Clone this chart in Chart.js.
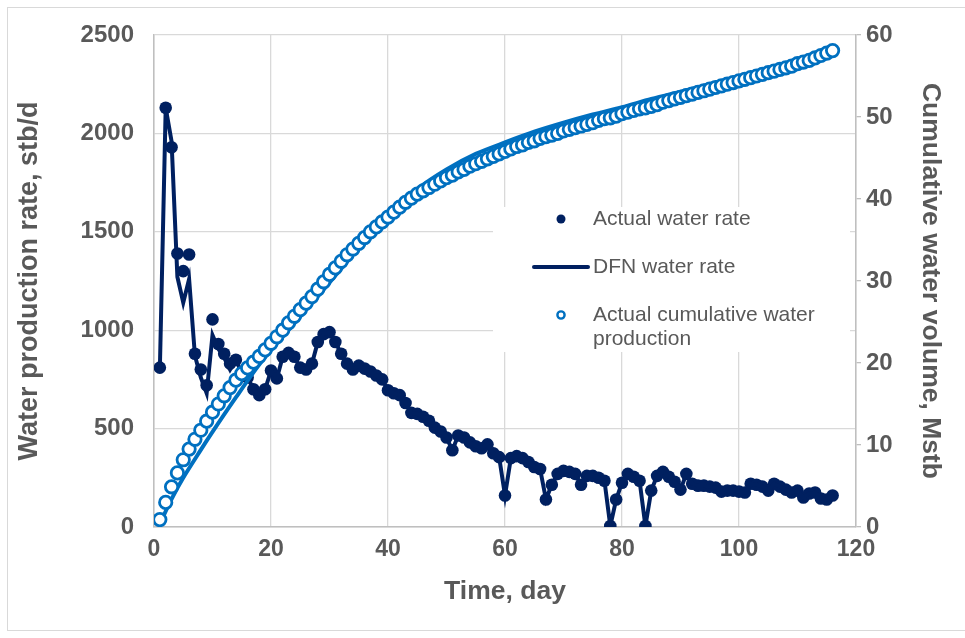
<!DOCTYPE html>
<html>
<head>
<meta charset="utf-8">
<title>Water production</title>
<script src="https://cdn.jsdelivr.net/npm/chart.js@4.4.1/dist/chart.umd.min.js"></script>
<style>
  html, body { margin: 0; padding: 0; background: #fff; }
  .frame {
    position: absolute; left: 7px; top: 7px; width: 958px; height: 622px;
    border: 1px solid #d9d9d9; border-right: none;
  }
  .chart-wrap { position: absolute; left: 0; top: 0; width: 965px; height: 638px; }
</style>
</head>
<body>
<div class="frame"></div>
<div class="chart-wrap"><canvas id="waterChart"></canvas></div>
<script>
// Daily water rate, stb/d (day 1..116)
const actualRate = [
  810, 2130, 1930, 1390, 1300, 1385, 880, 800, 720, 1055,
  930, 880, 830, 850, 780, 760, 700, 670, 700, 795,
  755, 865, 885, 865, 810, 800, 830, 940, 980, 990,
  940, 880, 830, 800, 820, 805, 790, 770, 750, 695,
  680, 670, 630, 580, 575, 560, 540, 505, 485, 455,
  390, 465, 455, 430, 410, 400, 420, 375, 355, 160,
  350, 360, 350, 330, 305, 295, 140, 215, 270, 285,
  280, 270, 215, 260, 260, 250, 235, 5, 140, 225,
  270, 255, 235, 5, 185, 260, 280, 255, 230, 190,
  270, 220, 210, 210, 205, 200, 180, 185, 185, 180,
  175, 220, 215, 205, 185, 220, 205, 190, 175, 185,
  150, 170, 175, 145, 140, 160
];

// DFN model rate, stb/d (day 1..116)
const dfnRate = [
  800, 2130, 1960, 1270, 1140, 1260, 870, 760, 680, 975,
  905, 860, 800, 850, 780, 760, 700, 670, 700, 795,
  755, 865, 885, 865, 810, 800, 830, 940, 980, 990,
  940, 880, 830, 800, 820, 805, 790, 770, 750, 695,
  680, 670, 630, 580, 575, 560, 540, 505, 485, 455,
  390, 465, 455, 430, 410, 400, 420, 375, 355, 160,
  350, 360, 350, 330, 305, 295, 140, 215, 270, 285,
  280, 270, 215, 260, 260, 250, 235, 5, 140, 225,
  270, 255, 235, 5, 185, 260, 280, 255, 230, 190,
  270, 220, 210, 210, 205, 200, 180, 185, 185, 180,
  175, 220, 215, 205, 185, 220, 205, 190, 175, 185,
  150, 170, 175, 145, 140, 160
];

// Cumulative water produced, Mstb (day 1..116)
const actualCum = [
  0.9, 3.0, 4.9, 6.6, 8.2, 9.5, 10.7, 11.8, 12.9, 14.0,
  15.0, 16.0, 17.0, 17.9, 18.7, 19.4, 20.1, 20.8, 21.6, 22.4,
  23.2, 24.0, 24.9, 25.7, 26.5, 27.3, 28.1, 29.0, 29.9, 30.8,
  31.6, 32.4, 33.2, 33.9, 34.6, 35.3, 36.0, 36.6, 37.2, 37.8,
  38.4, 39.0, 39.6, 40.1, 40.6, 41.0, 41.4, 41.8, 42.2, 42.6,
  42.9, 43.3, 43.6, 44.0, 44.3, 44.6, 44.9, 45.2, 45.5, 45.8,
  46.1, 46.4, 46.6, 46.9, 47.1, 47.4, 47.6, 47.8, 48.0, 48.3,
  48.5, 48.7, 48.9, 49.1, 49.3, 49.6, 49.8, 49.9, 50.1, 50.4,
  50.6, 50.8, 51.0, 51.1, 51.3, 51.5, 51.8, 52.0, 52.2, 52.4,
  52.6, 52.8, 53.0, 53.2, 53.4, 53.6, 53.8, 54.0, 54.2, 54.4,
  54.6, 54.8, 55.0, 55.2, 55.4, 55.6, 55.8, 56.0, 56.2, 56.5,
  56.7, 56.9, 57.2, 57.5, 57.8, 58.1
];

// DFN cumulative curve, Mstb
const dfnCumDays = [1, 3, 5, 8, 10, 14, 18, 22, 27, 30, 35, 40, 45, 50, 55, 60, 65, 70, 75, 80, 85, 90, 95, 100, 105, 110, 116];
const dfnCum     = [0.4, 3.4, 6.0, 9.4, 11.6, 15.8, 19.8, 23.2, 27.3, 29.8, 34.0, 37.9, 41.2, 43.6, 45.5, 46.9, 48.2, 49.3, 50.3, 51.2, 52.2, 53.1, 54.0, 54.9, 55.8, 56.7, 58.0];

const rateTicks = [0, 500, 1000, 1500, 2000, 2500];
const cumTicks = [0, 10, 20, 30, 40, 50, 60];
const dayTicks = [0, 20, 40, 60, 80, 100, 120];

const NAVY = '#002060';
const BLUE = '#0070C0';
const TEXT = '#595959';
const GRID = '#d9d9d9';
const FONT = "Arial, 'Liberation Sans', sans-serif";

const days = actualRate.map((_, i) => i + 1);
const pts = (xs, ys) => xs.map((x, i) => ({ x: x, y: ys[i] }));
const plainLabel = v => String(v);

// legend drawn inside the plot, on a white box
const insideLegend = {
  id: 'insideLegend',
  afterDraw(chart, args, opts) {
    const ctx = chart.ctx;
    ctx.save();
    ctx.fillStyle = '#fff';
    ctx.fillRect(opts.left, opts.top, opts.width, opts.height);
    ctx.font = '21px ' + FONT;
    ctx.textBaseline = 'middle';
    let y = opts.top + opts.firstRow;
    chart.data.datasets.filter(ds => ds.legend).forEach(ds => {
      const mx = opts.left + opts.markerX;
      if (ds.legend === 'line') {
        ctx.strokeStyle = ds.borderColor;
        ctx.lineWidth = 4;
        ctx.lineCap = 'round';
        ctx.beginPath();
        ctx.moveTo(mx - 27, y);
        ctx.lineTo(mx + 27, y);
        ctx.stroke();
      } else {
        ctx.beginPath();
        ctx.arc(mx, y, ds.legend === 'open' ? 3.6 : 4.5, 0, Math.PI * 2);
        if (ds.legend === 'open') {
          ctx.fillStyle = '#fff';
          ctx.fill();
          ctx.strokeStyle = ds.borderColor;
          ctx.lineWidth = 2.4;
          ctx.stroke();
        } else {
          ctx.fillStyle = ds.backgroundColor;
          ctx.fill();
        }
      }
      // wrap label to the box width
      const words = ds.label.split(' ');
      const lines = [];
      let line = '';
      words.forEach(w => {
        const test = line ? line + ' ' + w : w;
        if (ctx.measureText(test).width > opts.textWidth && line) {
          lines.push(line);
          line = w;
        } else {
          line = test;
        }
      });
      lines.push(line);
      ctx.fillStyle = TEXT;
      lines.forEach((l, i) => ctx.fillText(l, opts.left + opts.textX, y + i * opts.lineGap));
      y += opts.rowGap;
    });
    ctx.restore();
  }
};

const ctx = document.getElementById('waterChart').getContext('2d');
const waterChart = new Chart(ctx, {
  type: 'line',
  data: {
    datasets: [
      {
        label: 'Actual water rate',
        legend: 'dot',
        data: pts(days, actualRate),
        yAxisID: 'yRate',
        showLine: false,
        pointRadius: 6.3,
        borderColor: NAVY,
        backgroundColor: NAVY,
        pointBackgroundColor: NAVY,
        pointBorderWidth: 0,
        order: 3
      },
      {
        label: 'DFN water rate',
        legend: 'line',
        data: pts(days, dfnRate),
        yAxisID: 'yRate',
        borderColor: NAVY,
        borderWidth: 4,
        pointRadius: 0,
        order: 2
      },
      {
        label: 'Actual cumulative water production',
        legend: 'open',
        data: pts(days, actualCum),
        yAxisID: 'yCum',
        showLine: false,
        pointRadius: 6.2,
        pointBorderWidth: 2.8,
        borderColor: BLUE,
        backgroundColor: '#fff',
        pointBackgroundColor: '#fff',
        order: 0
      },
      {
        label: 'DFN cumulative water production',
        data: pts(dfnCumDays, dfnCum),
        yAxisID: 'yCum',
        borderColor: BLUE,
        borderWidth: 4,
        pointRadius: 0,
        tension: 0.3,
        order: 1
      }
    ]
  },
  options: {
    responsive: true,
    maintainAspectRatio: false,
    animation: false,
    layout: { padding: { top: 35, left: 0, right: 0, bottom: 0 } },
    plugins: {
      legend: { display: false },
      tooltip: { enabled: false },
      insideLegend: {
        left: 493, top: 207, width: 357, height: 145,
        firstRow: 12, rowGap: 48, lineGap: 24,
        markerX: 68, textX: 100, textWidth: 240
      }
    },
    scales: {
      x: {
        type: 'linear',
        min: 0,
        max: 120,
        afterBuildTicks: s => { s.ticks = dayTicks.map(v => ({ value: v })); },
        afterFit: s => { s.height = 111; },
        ticks: { color: TEXT, font: { family: FONT, size: 23, weight: 'bold' }, padding: 9, maxRotation: 0, callback: plainLabel },
        grid: { color: GRID, lineWidth: 1.3, drawTicks: false },
        border: { color: '#bfbfbf', width: 1.5 },
        title: {
          display: true, text: 'Time, day', color: TEXT,
          font: { family: FONT, size: 26.5, weight: 'bold' }, padding: { bottom: 30 }
        }
      },
      yRate: {
        position: 'left',
        min: 0,
        max: 2500,
        afterBuildTicks: s => { s.ticks = rateTicks.map(v => ({ value: v })); },
        afterFit: s => { s.width = 154; },
        ticks: { color: TEXT, font: { family: FONT, size: 24, weight: 'bold' }, padding: 20, callback: plainLabel },
        grid: { color: GRID, lineWidth: 1.3, drawTicks: false },
        border: { color: '#bfbfbf', width: 1.5 },
        title: {
          display: true, text: 'Water production rate, stb/d', color: TEXT,
          font: { family: FONT, size: 27, weight: 'bold' }, padding: { top: 13 }
        }
      },
      yCum: {
        position: 'right',
        min: 0,
        max: 60,
        afterBuildTicks: s => { s.ticks = cumTicks.map(v => ({ value: v })); },
        afterFit: s => { s.width = 109; },
        ticks: { color: TEXT, font: { family: FONT, size: 24, weight: 'bold' }, padding: 5, callback: plainLabel },
        grid: { drawOnChartArea: false, color: '#bfbfbf', tickLength: 5, lineWidth: 1.3 },
        border: { color: '#bfbfbf', width: 1.5 },
        title: {
          display: true, text: 'Cumulative water volume, Mstb', color: TEXT,
          font: { family: FONT, size: 26.5, weight: 'bold' }, padding: { top: 19 }
        }
      }
    }
  },
  plugins: [insideLegend]
});
</script>
</body>
</html>
